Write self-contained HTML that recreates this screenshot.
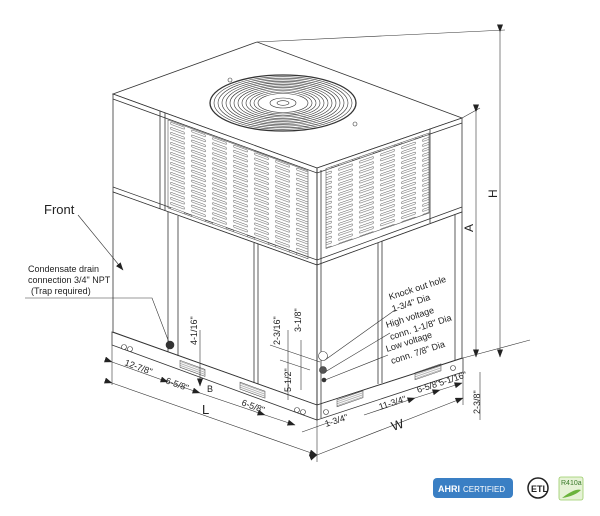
<!DOCTYPE html>
<html><head><meta charset="utf-8"><style>
html,body{margin:0;padding:0;background:#fff}
svg{display:block}
text{font-family:"Liberation Sans",Arial,sans-serif;fill:#222}
</style></head><body>
<svg width="600" height="516" viewBox="0 0 600 516" xmlns="http://www.w3.org/2000/svg">
<defs>
<pattern id="slot" patternUnits="userSpaceOnUse" width="21" height="5">
<rect x="2.5" y="1.2" width="14" height="2.2" rx="1" fill="#fff" stroke="#555" stroke-width="0.5"/>
</pattern>
<pattern id="gr" patternUnits="userSpaceOnUse" width="4" height="2">
<line x1="0" y1="1" x2="4" y2="1" stroke="#666" stroke-width="0.5"/>
</pattern>
<marker id="ar" markerWidth="8" markerHeight="6" refX="7.5" refY="3" orient="auto" markerUnits="userSpaceOnUse"><path d="M0,0 L8,3 L0,6z" fill="#222"/></marker>
</defs>
<g stroke="#333" stroke-width="0.8" fill="#fff">
<path d="M113,94 L257,42 L462,118 L317,168 Z"/>
<path d="M113,94 L317,168 L317,265 L113,192 Z"/>
<path d="M317,168 L462,118 L462,212 L317,265 Z"/>
<path d="M113,192 L317,265 L317,405 L113,332 Z"/>
<path d="M317,265 L462,212 L462,358 L317,405 Z"/>
<path d="M112,332 L317,405 L317,420 L112,345 Z"/>
<path d="M317,405 L463,358 L463,372 L317,420 Z"/>
<path d="M113,99 L317,173 L462,123" fill="none"/>
<path d="M113,187 L317,260 L462,207" fill="none"/>
<line x1="317" y1="168" x2="317" y2="420"/>
<line x1="321" y1="170" x2="321" y2="418"/>
<line x1="160" y1="111" x2="160" y2="209"/>
<line x1="165" y1="113" x2="165" y2="211"/>
<line x1="430" y1="129" x2="430" y2="223"/>
<line x1="168" y1="212" x2="168" y2="352"/>
<line x1="178" y1="216" x2="178" y2="356"/>
<line x1="254" y1="243" x2="254" y2="383"/>
<line x1="258" y1="244" x2="258" y2="384"/>
<line x1="378" y1="243" x2="378" y2="384"/>
<line x1="382" y1="241" x2="382" y2="383"/>
<line x1="455" y1="215" x2="455" y2="360"/>
</g>
<g transform="matrix(1,0.363,0,1,0,-41)">
<rect x="168" y="100" width="140" height="88" fill="url(#slot)" stroke="#555" stroke-width="0.6"/>
<rect x="180" y="336" width="25" height="7" fill="url(#gr)" stroke="#444" stroke-width="0.5"/>
<rect x="240" y="336" width="25" height="7" fill="url(#gr)" stroke="#444" stroke-width="0.5"/>
</g>
<g transform="matrix(1,-0.345,0,1,0,109)">
<rect x="326" y="172" width="103" height="80" fill="url(#slot)" stroke="#555" stroke-width="0.6"/>
<rect x="337" y="407" width="26" height="7" fill="url(#gr)" stroke="#444" stroke-width="0.5"/>
<rect x="415" y="407" width="26" height="7" fill="url(#gr)" stroke="#444" stroke-width="0.5"/>
</g>
<g fill="none" stroke="#333" stroke-width="0.6">
<ellipse cx="283" cy="103" rx="73" ry="28" stroke-width="1.3"/>
<ellipse cx="283" cy="103" rx="69" ry="26.3"/>
<ellipse cx="283" cy="103" rx="65" ry="24.8"/>
<ellipse cx="283" cy="103" rx="61" ry="23.2"/>
<ellipse cx="283" cy="103" rx="57" ry="21.7"/>
<ellipse cx="283" cy="103" rx="53" ry="20.2"/>
<ellipse cx="283" cy="103" rx="49" ry="18.6"/>
<ellipse cx="283" cy="103" rx="45" ry="17.1"/>
<ellipse cx="283" cy="103" rx="41" ry="15.6"/>
<ellipse cx="283" cy="103" rx="37" ry="14"/>
<ellipse cx="283" cy="103" rx="33" ry="12.5"/>
<ellipse cx="283" cy="103" rx="29" ry="11"/>
<ellipse cx="283" cy="103" rx="25" ry="9.5"/>
<ellipse cx="283" cy="103" rx="13" ry="5" fill="#fff"/>
<ellipse cx="283" cy="103" rx="6" ry="2.3"/>
<circle cx="230" cy="80" r="2"/><circle cx="355" cy="124" r="2"/>
</g>
<g stroke="#333" stroke-width="0.6" fill="none">
<line x1="257" y1="42" x2="505" y2="30"/>
<line x1="462" y1="118" x2="480" y2="108"/>
<line x1="500" y1="32" x2="500" y2="357" marker-start="url(#ar)" marker-end="url(#ar)"/>
<line x1="476" y1="112" x2="476" y2="357" marker-start="url(#ar)" marker-end="url(#ar)"/>
<line x1="463" y1="358" x2="530" y2="340"/>
<line x1="112" y1="345" x2="112" y2="385"/>
<line x1="317" y1="420" x2="317" y2="462"/>
<line x1="463" y1="372" x2="463" y2="405"/>
<line x1="112" y1="383" x2="317" y2="455" marker-start="url(#ar)" marker-end="url(#ar)"/>
<line x1="317" y1="455" x2="463" y2="398" marker-start="url(#ar)" marker-end="url(#ar)"/>
<line x1="112" y1="362" x2="168" y2="382" marker-start="url(#ar)" marker-end="url(#ar)"/>
<line x1="168" y1="382" x2="200" y2="393" marker-end="url(#ar)"/>
<line x1="200" y1="393" x2="265" y2="415" marker-end="url(#ar)"/>
<line x1="265" y1="415" x2="295" y2="425" marker-end="url(#ar)"/>
<line x1="364" y1="415" x2="415" y2="398" marker-end="url(#ar)"/>
<line x1="415" y1="398" x2="440" y2="390" marker-end="url(#ar)"/>
<line x1="440" y1="390" x2="462" y2="383" marker-end="url(#ar)"/>
<line x1="302" y1="432" x2="330" y2="422"/>
<line x1="480" y1="372" x2="480" y2="420"/>
<line x1="200" y1="330" x2="200" y2="386" marker-end="url(#ar)"/>
<line x1="288" y1="330" x2="288" y2="400"/>
<line x1="301" y1="340" x2="301" y2="390"/>
<line x1="280" y1="360" x2="310" y2="370"/>
<line x1="270" y1="345" x2="320" y2="362"/>
<line x1="78" y1="215" x2="123" y2="270" marker-end="url(#ar)"/>
<polyline points="25,298 152,298 170,345"/>
<line x1="325" y1="360" x2="395" y2="310"/>
<line x1="325" y1="372" x2="390" y2="333"/>
<line x1="325" y1="380" x2="388" y2="355"/>
</g>
<g fill="#fff" stroke="#333" stroke-width="0.6">
<circle cx="170" cy="345" r="4" fill="#333"/>
<circle cx="323" cy="356" r="4.5"/>
<circle cx="323" cy="370" r="3.5" fill="#555"/>
<circle cx="324" cy="380" r="2" fill="#333"/>
<circle cx="297" cy="410" r="2.5"/><circle cx="303" cy="412" r="2.5"/>
<circle cx="124" cy="347" r="2.5"/><circle cx="130" cy="349" r="2.5"/>
<circle cx="326" cy="412" r="2.5"/><circle cx="453" cy="368" r="2.5"/>
</g>
<g font-size="10">
<text x="44" y="214" font-size="13">Front</text>
<text x="28" y="272" font-size="9">Condensate drain</text>
<text x="28" y="283" font-size="9">connection 3/4" NPT</text>
<text x="31" y="294" font-size="9">(Trap required)</text>
<text x="390" y="300" font-size="9" transform="rotate(-18 390 300)">Knock out hole</text>
<text x="393" y="312" font-size="9" transform="rotate(-18 393 312)">1-3/4" Dia</text>
<text x="387" y="328" font-size="9" transform="rotate(-18 387 328)">High voltage</text>
<text x="391" y="340" font-size="9" transform="rotate(-18 391 340)">conn. 1-1/8" Dia</text>
<text x="387" y="352" font-size="9" transform="rotate(-18 387 352)">Low voltage</text>
<text x="392" y="364" font-size="9" transform="rotate(-18 392 364)">conn. 7/8" Dia</text>
<text x="124" y="365" font-size="9" transform="rotate(20 124 365)">12-7/8"</text>
<text x="165" y="383" font-size="9" transform="rotate(20 165 383)">6-5/8"</text>
<text x="207" y="392" font-size="9">B</text>
<text x="202" y="414" font-size="13">L</text>
<text x="241" y="405" font-size="9" transform="rotate(20 241 405)">6-5/8"</text>
<text x="197" y="345" font-size="9" transform="rotate(-90 197 345)">4-1/16"</text>
<text x="280" y="345" font-size="9" transform="rotate(-90 280 345)">2-3/16"</text>
<text x="301" y="332" font-size="9" transform="rotate(-90 301 332)">3-1/8"</text>
<text x="291" y="392" font-size="9" transform="rotate(-90 291 392)">5-1/2"</text>
<text x="326" y="427" font-size="9" transform="rotate(-18 326 427)">1-3/4"</text>
<text x="380" y="410" font-size="9" transform="rotate(-18 380 410)">11-3/4"</text>
<text x="418" y="393" font-size="9" transform="rotate(-18 418 393)">6-5/8"</text>
<text x="440" y="386" font-size="9" transform="rotate(-18 440 386)">5-1/16"</text>
<text x="393" y="431" font-size="13" transform="rotate(-18 393 431)">W</text>
<text x="480" y="414" font-size="9" transform="rotate(-90 480 414)">2-3/8"</text>
<text x="497" y="198" font-size="12" transform="rotate(-90 497 198)">H</text>
<text x="473" y="232" font-size="12" transform="rotate(-90 473 232)">A</text>
</g>
<rect x="433" y="478" width="80" height="20" rx="4" fill="#3a7fc4"/>
<text x="438" y="492" font-size="9" font-weight="bold" style="fill:#fff">AHRI</text>
<text x="463" y="492" font-size="8" style="fill:#fff">CERTIFIED</text>
<circle cx="538" cy="488" r="10" fill="#fff" stroke="#222" stroke-width="1.5"/>
<text x="531" y="492" font-size="9" font-weight="bold">ETL</text>
<rect x="559" y="477" width="24" height="23" rx="2" fill="#e6f2d6" stroke="#9c6" stroke-width="0.8"/>
<text x="561" y="485" font-size="7" style="fill:#3a7a2a">R410a</text>
<path d="M562,498 Q575,488 581,490 Q575,496 562,498z" fill="#6bb33c"/>
</svg>
</body></html>
